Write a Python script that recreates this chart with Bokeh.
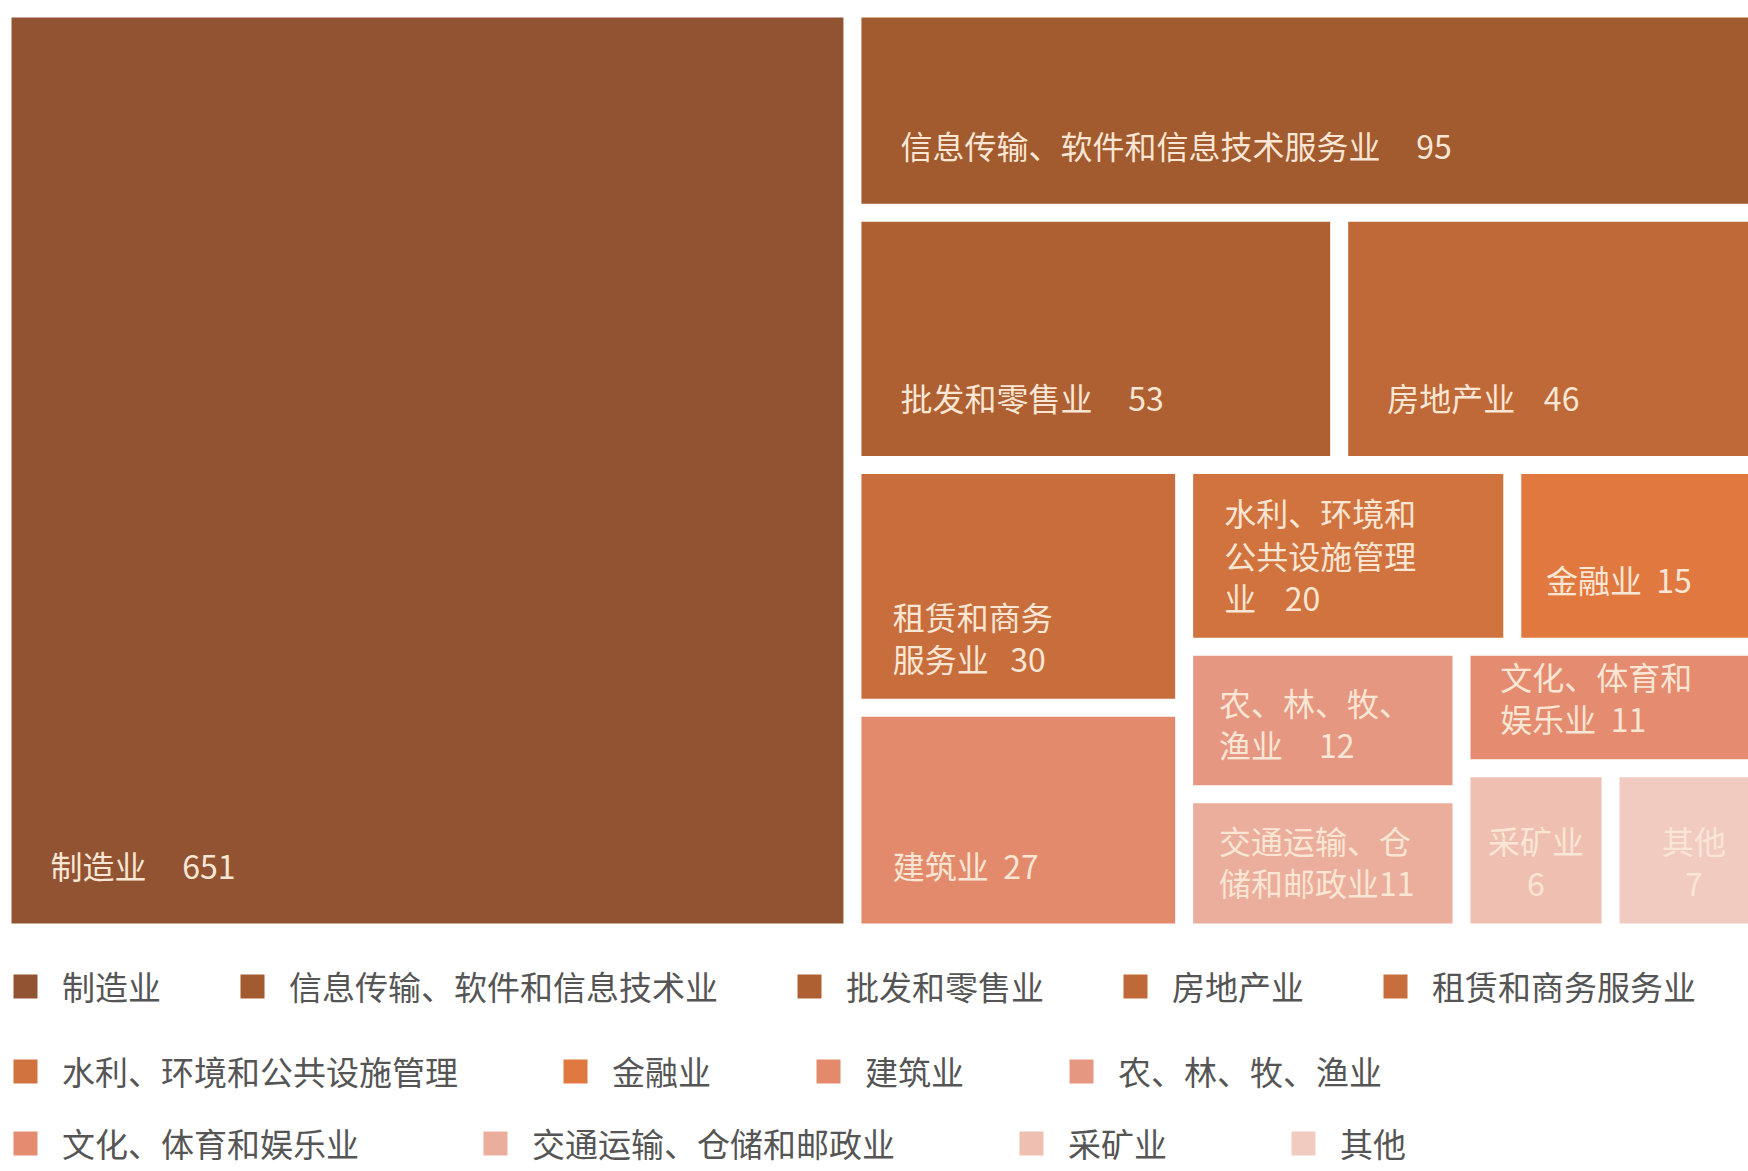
import numpy as np
from bokeh.plotting import figure
from bokeh.models import ColumnDataSource, Range1d, Legend, LegendItem
from bokeh.core.properties import value
from bokeh.embed import file_html
from bokeh.resources import INLINE

# ---------------- data ----------------
categories = ["制造业", "信息传输、软件和信息技术业", "批发和零售业", "房地产业", "租赁和商务服务业",
              "水利、环境和公共设施管理", "金融业", "建筑业", "农、林、牧、渔业",
              "文化、体育和娱乐业", "交通运输、仓储和邮政业", "采矿业", "其他"]
values = [651, 95, 53, 46, 30, 20, 15, 27, 12, 11, 11, 6, 7]
box_names = ["制造业", "信息传输、软件和信息技术服务业", "批发和零售业", "房地产业", "租赁和商务\n服务业",
             "水利、环境和\n公共设施管理\n业", "金融业", "建筑业", "农、林、牧、\n渔业",
             "文化、体育和\n娱乐业", "交通运输、仓\n储和邮政业", "采矿业", "其他"]
box_seps = ["\u00a0" * 5, "\u00a0" * 5, "\u00a0" * 5, "\u00a0" * 4, "\u00a0" * 3,
            "\u00a0" * 4, "\u00a0" * 2, "\u00a0" * 2, "\u00a0" * 5,
            "\u00a0" * 2, "", "\n", "\n"]
colors = ["#915331", "#A25A2F", "#AF6033", "#BE6937", "#C86D3C",
          "#D1733E", "#E07840", "#E48A6C", "#E69782",
          "#E58B70", "#EBAE9C", "#EFBFB2", "#F1CBC0"]
legend_rows = [[0, 1, 2, 3, 4], [5, 6, 7, 8], [9, 10, 11, 12]]

# ---------------- treemap layout (slice & dice) ----------------
LAYOUT = ("h", [0, ("v", [1, ("h", [2, 3]),
                          ("h", [("v", [4, 7]),
                                 ("v", [("h", [5, 6]),
                                        ("h", [("v", [8, 10]),
                                               ("v", [9, ("h", [11, 12])])])])])])])
weights = np.array(values, dtype=float) ** 0.74


def wsum(node):
    if isinstance(node, int):
        return weights[node]
    return sum(wsum(k) for k in node[1])


def place(node, x0, y0, x1, y1, out):
    if isinstance(node, int):
        out[node] = (x0, y0, x1, y1)
        return
    d, kids = node
    tot = sum(wsum(k) for k in kids)
    pos = x0 if d == "h" else y0
    for k in kids:
        frac = wsum(k) / tot
        if d == "h":
            nxt = pos + frac * (x1 - x0)
            place(k, pos, y0, nxt, y1, out)
        else:
            nxt = pos + frac * (y1 - y0)
            place(k, x0, pos, x1, nxt, out)
        pos = nxt


W, H = 1748, 1171
rects = {}
place(LAYOUT, 2, 8, 1777, 932, rects)
inset = 9
n = len(values)
L = [rects[i][0] + inset for i in range(n)]
T = [rects[i][1] + inset for i in range(n)]
R = [rects[i][2] - inset for i in range(n)]
B = [rects[i][3] - inset for i in range(n)]

src = ColumnDataSource(dict(left=L, right=R, top=T, bottom=B, color=colors, name=categories))

p = figure(width=W, height=H, output_backend="svg", toolbar_location=None,
           x_range=Range1d(0, W), y_range=Range1d(H, 0), min_border=0)
p.axis.visible = False
p.grid.visible = False
p.outline_line_color = None
p.background_fill_color = "white"
p.border_fill_color = "white"

r = p.quad(left="left", right="right", top="top", bottom="bottom", fill_color="color",
           line_color=None, source=src)

# ---------------- labels ----------------
lx, ly, lt, cx, cy, ct = [], [], [], [], [], []
for i in range(n):
    txt = box_names[i] + box_seps[i] + str(values[i])
    w = R[i] - L[i]
    nlines = txt.count("\n") + 1
    bpad = 36 if nlines == 1 else 18
    if box_seps[i] == "\n":
        cx.append((L[i] + R[i]) / 2)
        cy.append(B[i] - bpad)
        ct.append(txt)
    else:
        lx.append(L[i] + min(39, 0.1 * w))
        ly.append(B[i] - bpad)
        lt.append(txt)

common = dict(text_font=value("Noto Sans CJK SC"), text_font_size="32px", text_color="#FAE6D4",
              text_baseline="bottom", text_line_height=0.92)
p.text(x=lx, y=ly, text=lt, text_align="left", **common)
p.text(x=cx, y=cy, text=ct, text_align="center", **common)

# ---------------- legend ----------------
row_y = [161, 76, 4]
row_spacing = [76, 102, 121]
for row, yy, sp in zip(legend_rows, row_y, row_spacing):
    items = [LegendItem(label=categories[i], renderers=[r], index=i) for i in row]
    lg = Legend(items=items, orientation="horizontal", location=(10, yy),
                glyph_width=30, glyph_height=30, label_standoff=22, spacing=sp,
                padding=0, margin=0, border_line_color=None, background_fill_alpha=0,
                label_text_font="Noto Sans CJK SC", label_text_font_size="33px",
                label_text_color="#555555")
    p.add_layout(lg, "center")

open("out.html", "w").write(file_html(p, INLINE))
